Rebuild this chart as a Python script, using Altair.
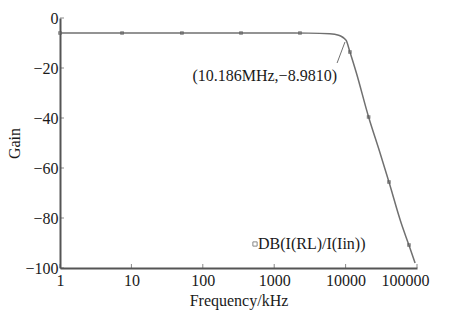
import altair as alt
import pandas as pd

# Curve
freq_khz = [1, 10, 100, 1000, 3000, 6000, 8000, 9000, 9600, 10186, 11500, 14000,
            21000, 30000, 40500, 60000, 77000, 94000]
gain_db = [-6.0, -6.0, -6.0, -6.0, -6.05, -6.3, -6.9, -7.6, -8.2, -8.98, -13.6, -21.5,
           -39.6, -53.5, -65.6, -82.0, -90.8, -98.0]

# Marker positions along the trace
marker_freq = [1, 7.4, 51, 343, 2296, 11500, 21000, 40500, 77200]
marker_gain = [-6.0, -6.0, -6.0, -6.0, -6.0, -13.6, -39.6, -65.6, -90.8]

series_name = "DB(I(RL)/I(Iin))"

x_ticks = [1, 10, 100, 1000, 10000, 100000]
y_ticks = [0, -20, -40, -60, -80, -100]

ann_text = "(10.186MHz,\u22128.9810)"
ann_text_freq = [7570]
ann_text_gain = [-25.2]
ann_line_freq = [7600, 9800]
ann_line_gain = [-18.0, -9.6]

FONT = "Liberation Serif"
LINE = "#707070"
AXIS = "#555555"
TEXT = "#1a1a1a"

curve = pd.DataFrame({"f": freq_khz, "g": gain_db})
markers = pd.DataFrame({"f": marker_freq, "g": marker_gain, "s": series_name})
xt = pd.DataFrame({"f": x_ticks, "g": [-100] * len(x_ticks)})
yt = pd.DataFrame({"f": [1] * len(y_ticks), "g": y_ticks})
ann_t = pd.DataFrame({"f": ann_text_freq, "g": ann_text_gain, "t": [ann_text]})
ann_l = pd.DataFrame({"f": ann_line_freq, "g": ann_line_gain})

xscale = alt.Scale(type="log", domain=[1, 100000], nice=False)
yscale = alt.Scale(domain=[-100, 0], nice=False)

xenc = alt.X("f:Q", scale=xscale, title="Frequency/kHz",
             axis=alt.Axis(values=x_ticks, format="d", ticks=False, labelPadding=4,
                           grid=False, titlePadding=4, labelOverlap=False,
                           labelBound=False, labelFlush=False,
                           labelOffset={"expr": "datum.value === 100000 ? -12 : 0"}))
yenc = alt.Y("g:Q", scale=yscale, title="Gain",
             axis=alt.Axis(values=y_ticks, format="d", ticks=False, labelPadding=2,
                           grid=False, titlePadding=2, labelFlush=False))

line = alt.Chart(curve).mark_line(color=LINE, strokeWidth=1.5, interpolate="monotone").encode(
    x=xenc, y=yenc)

pts = alt.Chart(markers).mark_point(shape="square", filled=False, size=6,
                                    strokeWidth=1.2).encode(
    x="f:Q", y="g:Q",
    color=alt.Color("s:N", scale=alt.Scale(range=[AXIS]),
                    legend=alt.Legend(title=None, orient="none", legendX=187, legendY=218,
                                      symbolType="square", symbolSize=18,
                                      symbolStrokeWidth=1, labelFont=FONT,
                                      labelFontSize=16, labelColor=TEXT,
                                      labelOffset={"expr": "-5"}, padding=0)))

xtick = alt.Chart(xt).mark_tick(color=AXIS, size=4, thickness=1, yOffset=-2).encode(
    x="f:Q", y="g:Q")
ytick = alt.Chart(yt).mark_tick(color=AXIS, size=4, thickness=1, xOffset=2,
                                orient="horizontal").encode(x="f:Q", y="g:Q")

ann_line = alt.Chart(ann_l).mark_line(color=LINE, strokeWidth=1).encode(x="f:Q", y="g:Q")
ann_txt = alt.Chart(ann_t).mark_text(align="right", baseline="alphabetic", font=FONT,
                                     fontSize=16, color=TEXT).encode(
    x="f:Q", y="g:Q", text="t:N")

chart = alt.layer(line, pts, xtick, ytick, ann_line, ann_txt).properties(
    width=357, height=250,
    padding={"left": 60, "top": 18, "right": 37, "bottom": 45},
    autosize="none",
    background="white",
).configure_view(stroke=None).configure_axis(
    domainColor=AXIS, domainWidth=2, labelFont=FONT, labelFontSize=16,
    labelColor=TEXT, titleFont=FONT, titleFontSize=16, titleFontWeight="normal",
    titleColor=TEXT,
)

chart.save("out.html", embed_options={"renderer": "svg", "actions": False})
